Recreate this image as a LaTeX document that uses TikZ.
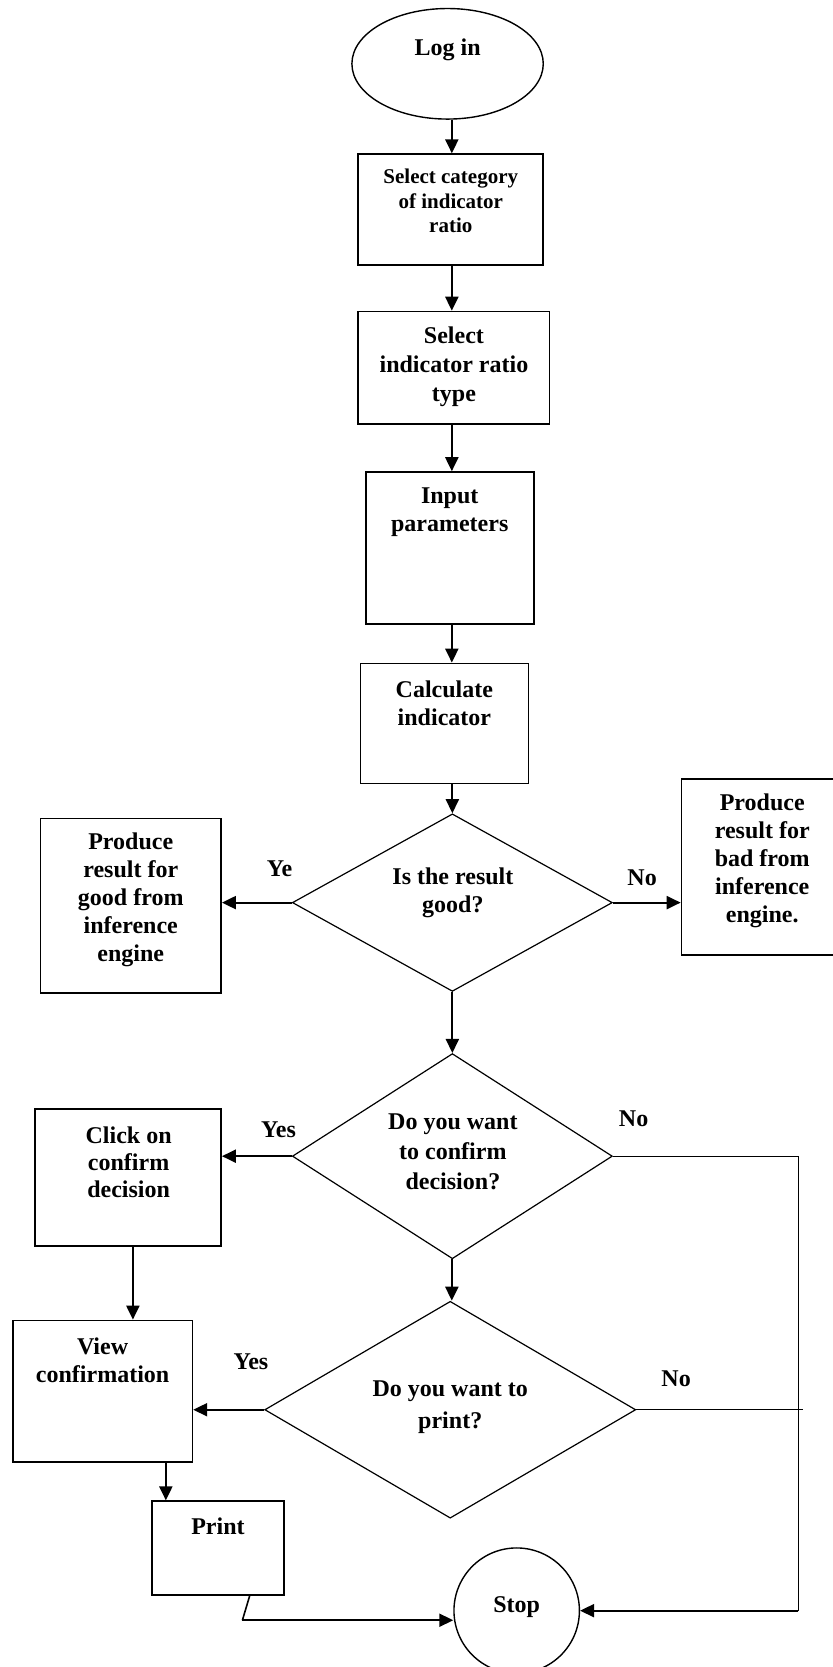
\documentclass[tikz,border=0pt]{standalone}
\usepackage{fontspec}
\setmainfont{Liberation Serif}
\usetikzlibrary{shapes.geometric,arrows.meta,positioning}
\newcommand{\pxu}{0.5313pt}

\begin{document}
\begin{tikzpicture}
        [
            x = \pxu, y = -\pxu,
            boxed/.style  = {shape=rectangle, draw, line width=0.8pt, inner sep=0pt},
            decide/.style = {shape=diamond, draw, line width=0.6pt, inner sep=0pt},
            oval/.style   = {shape=ellipse, draw, line width=0.7pt, inner sep=0pt},
            txt/.style    = {align=center, inner sep=0pt, font=\bfseries\fontsize{12}{14}\selectfont},
            arr/.style    = {draw, line width=1.1pt, -{Triangle[length=7pt,width=6.5pt]}},
            wire/.style   = {draw, line width=0.6pt},
        ]
        \useasboundingbox (0,0) rectangle (783,1568);
        \coordinate (spine) at (425,0);
        \coordinate (rail) at (751,0);
        \coordinate (railend) at (755,0);
        \coordinate (cv) at (125,0);
        \coordinate (vp) at (156,0);
        \coordinate (kink) at (228,1524);

        % main column
        \node [oval, minimum width=180*\pxu, minimum height=104*\pxu] (login) at (421,60) {};
        \node [txt] (login-t) at (421,47) {Log in};
        \node [boxed, minimum width=174*\pxu, minimum height=104*\pxu] (selcat) at (424,197) {};
        \node [txt, font=\bfseries\fontsize{10.5}{12.3}\selectfont] (selcat-t) at (424,189) {Select category\\of indicator\\ratio};
        \node [boxed, minimum width=180*\pxu, minimum height=106*\pxu] (seltype) at (427,346) {};
        \node [txt, font=\bfseries\fontsize{12}{14.6}\selectfont] (seltype-t) at (427,345) {Select\\indicator ratio\\type};
        \node [boxed, minimum width=158*\pxu, minimum height=143*\pxu] (inp) at (423,515.5) {};
        \node [txt] (inp-t) at (423,482) {Input\\parameters};
        \node [boxed, minimum width=158*\pxu, minimum height=113*\pxu] (calc) at (418,680.5) {};
        \node [txt] (calc-t) at (418,661.5) {Calculate\\indicator};

        % first decision
        \node [decide, minimum width=301*\pxu, minimum height=167*\pxu] (isgood) at (425.5,849) {};
        \node [txt] (isgood-t) at (426,840) {Is the result\\good?};
        \node [boxed, minimum width=170*\pxu, minimum height=164*\pxu] (goodres) at (123,852) {};
        \node [txt] (goodres-t) at (123,846.5) {Produce\\result for\\good from\\inference\\engine};
        \node [boxed, minimum width=152*\pxu, minimum height=165*\pxu] (badres) at (717,815.5) {};
        \node [txt] (badres-t) at (717,809.5) {Produce\\result for\\bad from\\inference\\engine.};
        \node [txt] (ye) at (263,817) {Ye};
        \node [txt] (no1) at (604,826) {No};

        % confirm decision
        \node [decide, minimum width=301*\pxu, minimum height=193*\pxu] (confirm) at (425.5,1087.5) {};
        \node [txt, font=\bfseries\fontsize{12}{15}\selectfont] (confirm-t) at (426,1083.5) {Do you want\\to confirm\\decision?};
        \node [boxed, minimum width=175*\pxu, minimum height=129*\pxu] (clickon) at (120.5,1107.5) {};
        \node [txt, font=\bfseries\fontsize{12}{13.5}\selectfont] (clickon-t) at (121,1093.5) {Click on\\confirm\\decision};
        \node [txt] (yes1) at (262,1063) {Yes};
        \node [txt] (no2) at (596,1052) {No};

        % print decision
        \node [decide, minimum width=349*\pxu, minimum height=204*\pxu] (toprint) at (423.5,1326) {};
        \node [txt, font=\bfseries\fontsize{12}{16}\selectfont] (toprint-t) at (423.5,1324) {Do you want to\\print?};
        \node [boxed, minimum width=169*\pxu, minimum height=133*\pxu] (viewconf) at (96.5,1308.5) {};
        \node [txt] (viewconf-t) at (96.5,1279.5) {View\\confirmation};
        \node [txt] (yes2) at (236,1281) {Yes};
        \node [txt] (no3) at (636,1297) {No};
        \node [boxed, minimum width=124*\pxu, minimum height=88*\pxu] (print) at (205,1456) {};
        \node [txt] (print-t) at (205,1436) {Print};
        \node [circle, draw, line width=0.7pt, minimum size=118*\pxu, inner sep=0pt] (stop) at (486,1515) {};
        \node [txt] (stop-t) at (486,1512) {Stop};

        % connectors
        \draw [arr] (login.south -| spine) -- (selcat.north -| spine);
        \draw [arr] (selcat.south -| spine) -- (seltype.north -| spine);
        \draw [arr] (seltype.south -| spine) -- (inp.north -| spine);
        \draw [arr] (inp.south -| spine) -- (calc.north -| spine);
        \draw [arr] (calc.south -| isgood.north) -- (isgood.north);
        \draw [arr] (isgood.west) -- (goodres.east |- isgood.west);
        \draw [arr] (isgood.east) -- (badres.west |- isgood.east);
        \draw [arr] (isgood.south) -- (confirm.north);
        \draw [arr] (confirm.west) -- (clickon.east |- confirm.west);
        \draw [wire] (confirm.east) -- (confirm.east -| rail) -- (rail |- stop);
        \draw [arr] (rail |- stop) -- (stop.east);
        \draw [arr] (confirm.south -| spine) -- (toprint.north -| spine);
        \draw [arr] (toprint.west) -- (viewconf.east |- toprint.west);
        \draw [wire] (toprint.east) -- (toprint.east -| railend);
        \draw [arr] (clickon.south -| cv) -- (viewconf.north -| cv);
        \draw [arr] (viewconf.south -| vp) -- (print.north -| vp);
        \draw [wire, line width=0.8pt] ([xshift=15.9pt]print.south) -- (kink);
        \draw [arr] (kink) -- (kink -| stop.west);
    \end{tikzpicture}
\end{document}
